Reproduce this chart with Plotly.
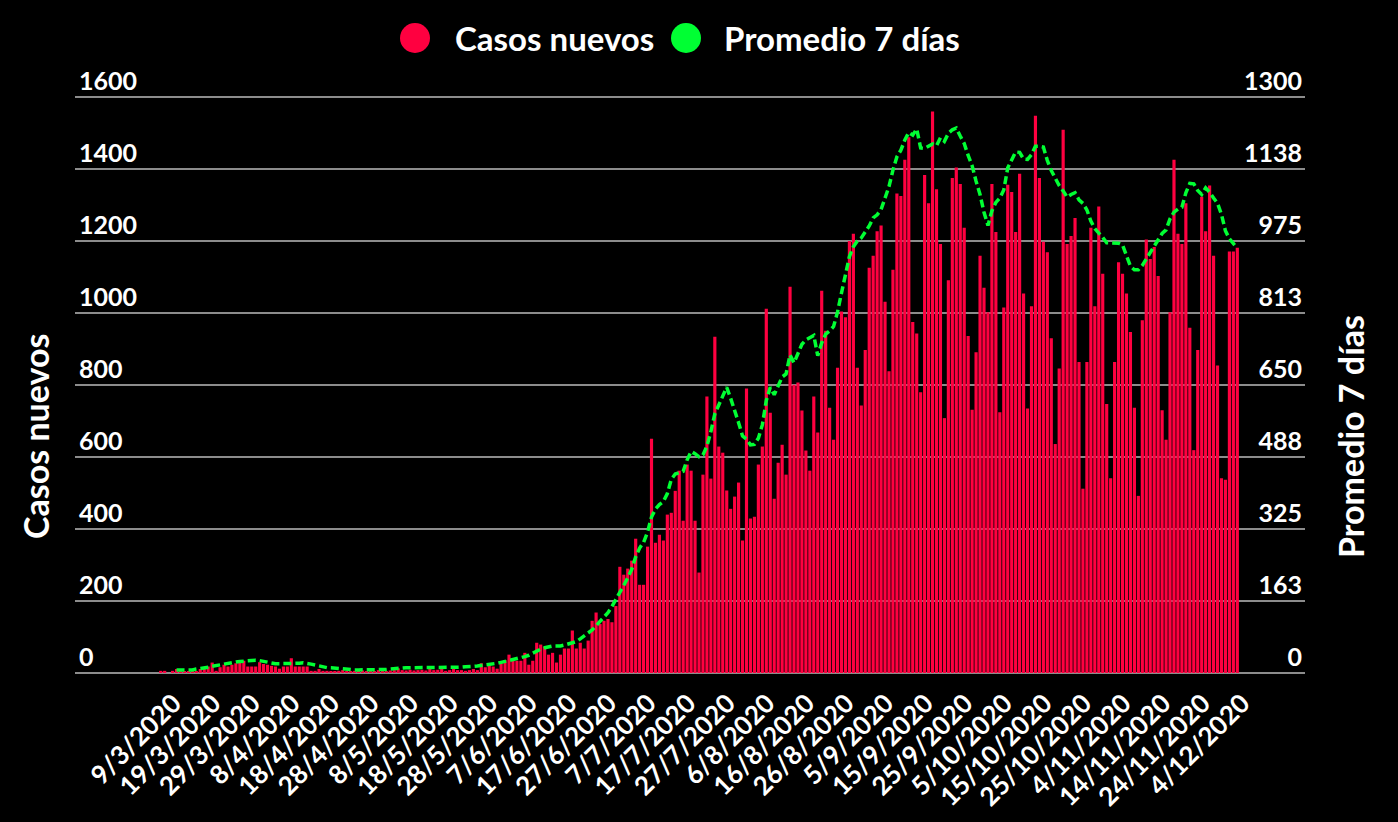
import pandas as pd
import plotly.graph_objects as go

# ---------------- data ----------------
start_date = "2020-03-07"

casos_nuevos = [
    6, 6, 0, 6, 11, 5, 5, 3, 5, 3,
    11, 16, 18, 29, 6, 16, 23, 18, 23, 27,
    30, 34, 18, 18, 18, 30, 25, 23, 20, 18,
    12, 18, 18, 41, 18, 18, 18, 18, 6, 6,
    11, 6, 6, 5, 4, 6, 8, 5, 4, 6,
    5, 7, 4, 6, 5, 8, 6, 5, 7, 8,
    13, 8, 7, 9, 7, 8, 9, 7, 18, 8,
    9, 11, 6, 8, 16, 8, 8, 6, 8, 11,
    8, 27, 16, 23, 18, 12, 27, 36, 51, 40,
    34, 34, 56, 23, 34, 84, 79, 73, 51, 56,
    29, 51, 68, 68, 118, 68, 84, 68, 90, 145,
    168, 136, 145, 150, 141, 186, 295, 273, 290, 312,
    373, 245, 245, 351, 651, 362, 384, 368, 440, 445,
    506, 562, 423, 579, 562, 423, 279, 551, 768, 540,
    934, 629, 612, 507, 456, 490, 529, 368, 790, 429,
    434, 579, 629, 1012, 723, 484, 584, 634, 551, 1073,
    801, 807, 729, 618, 562, 768, 668, 1062, 951, 737,
    648, 848, 1004, 988, 1200, 1220, 848, 743, 897, 1126,
    1159, 1227, 1243, 1031, 838, 1120, 1332, 1325, 1426, 1488,
    975, 943, 780, 1383, 1305, 1560, 1344, 1192, 708, 1091,
    1375, 1404, 1358, 1237, 936, 731, 891, 1159, 1070, 1002,
    1358, 1225, 724, 1015, 1356, 1336, 1225, 1387, 1054, 735,
    1019, 1548, 1375, 1198, 1169, 930, 636, 846, 1509, 1192,
    1214, 1264, 864, 512, 864, 1237, 1019, 1296, 1109, 747,
    541, 864, 1141, 1109, 1054, 947, 737, 492, 980, 1204,
    1150, 1183, 1103, 730, 648, 1002, 1426, 1220, 1192, 1305,
    959, 619, 897, 1323, 1227, 1354, 1159, 854, 541, 537,
    1171, 1171, 1181,
]

promedio_7_dias = [
    None, None, None, None, 7, 7, 7, 7, 7, 9,
    10, 11, 13, 15, 17, 19, 20, 21, 23, 25,
    26, 27, 29, 29, 29, 28, 26, 24, 22, 21,
    21, 21, 21, 21, 21, 22, 23, 22, 20, 18,
    16, 14, 12, 12, 11, 11, 10, 8, 7, 7,
    7, 7, 7, 7, 7, 7, 7, 8, 9, 10,
    12, 12, 12, 12, 12, 12, 12, 12, 12, 12,
    12, 13, 13, 13, 13, 13, 13, 14, 14, 15,
    16, 17, 18, 19, 20, 22, 24, 26, 28, 30,
    31, 34, 37, 40, 45, 50, 54, 57, 60, 61,
    61, 61, 63, 65, 67, 71, 77, 83, 90, 97,
    107, 117, 127, 136, 150, 165, 183, 198, 215, 234,
    262, 282, 295, 318, 352, 370, 380, 387, 405, 437,
    449, 453, 455, 481, 500, 495, 488, 492, 512, 545,
    585, 605, 625, 645, 620, 595, 565, 535, 528, 515,
    516, 530, 560, 615, 645, 628, 650, 668, 675, 718,
    700, 720, 742, 752, 758, 762, 716, 745, 765, 772,
    782, 815, 858, 900, 940, 962, 975, 982, 995, 1009,
    1027, 1034, 1046, 1070, 1098, 1135, 1165, 1180, 1203, 1220,
    1214, 1228, 1185, 1184, 1190, 1194, 1190, 1208, 1200, 1218,
    1226, 1230, 1212, 1195, 1168, 1145, 1110, 1080, 1040, 1010,
    1043, 1062, 1072, 1090, 1140, 1160, 1176, 1175, 1160, 1159,
    1170, 1189, 1189, 1187, 1157, 1134, 1116, 1100, 1088, 1074,
    1080, 1084, 1068, 1060, 1045, 1020, 1003, 994, 983, 971,
    971, 970, 970, 966, 940, 918, 910, 910, 920, 935,
    950, 965, 980, 992, 1000, 1025, 1040, 1047, 1051, 1084,
    1105, 1104, 1089, 1080, 1095, 1085, 1072, 1060, 1035, 998,
    980, 970, 959,
]

x_tick_labels = [
    "9/3/2020", "19/3/2020", "29/3/2020", "8/4/2020", "18/4/2020", "28/4/2020",
    "8/5/2020", "18/5/2020", "28/5/2020", "7/6/2020", "17/6/2020", "27/6/2020",
    "7/7/2020", "17/7/2020", "27/7/2020", "6/8/2020", "16/8/2020", "26/8/2020",
    "5/9/2020", "15/9/2020", "25/9/2020", "5/10/2020", "15/10/2020", "25/10/2020",
    "4/11/2020", "14/11/2020", "24/11/2020", "4/12/2020",
]

left_ticks = [0, 200, 400, 600, 800, 1000, 1200, 1400, 1600]
right_tickvals = [0, 162.5, 325, 487.5, 650, 812.5, 975, 1137.5, 1300]
right_ticktext = ["0", "163", "325", "488", "650", "813", "975", "1138", "1300"]

series_names = ["Casos nuevos", "Promedio 7 días"]
series_colors = ["#ff0040", "#00ff33"]

assert len(casos_nuevos) == len(promedio_7_dias) == 273

fechas = [f"{d.day}/{d.month}/{d.year}" for d in
          pd.date_range(start_date, periods=len(casos_nuevos), freq="D")]

# ---------------- figure ----------------
W, H = 1398, 822
Y0_PX, Y1600_PX = 673, 97          # pixel rows of the 0 and 1600 gridlines
LEFT_MAX, RIGHT_MAX = 1600, 1300
pad = 1650 / 1600                  # a little head-room so the top gridline is drawn
ML, MR, MB = 75, 93, H - Y0_PX
PH = (Y0_PX - Y1600_PX) * pad
MT = H - MB - PH
PW = W - ML - MR
FONT = "Lato"
bold = "bold"


def px_x(px):
    return (px - ML) / PW


def px_y(py):
    return (H - MB - py) / PH


fig = go.Figure()
fig.add_trace(go.Bar(
    x=fechas, y=casos_nuevos, name=series_names[0],
    marker=dict(color=series_colors[0], line=dict(width=0)),
    showlegend=False,
))
fig.add_trace(go.Scatter(
    x=fechas, y=promedio_7_dias, name=series_names[1], yaxis="y2",
    mode="lines", connectgaps=False,
    line=dict(color=series_colors[1], width=3.5, dash="8px,4px"),
    showlegend=False,
))

xtickfont = dict(family=FONT, size=26, color="white", weight=bold)
ytickfont = dict(family=FONT, size=25, color="white", weight=bold)
titlefont = dict(family=FONT, size=34, color="white", weight=bold)
grid = "#8c8c8c"

fig.update_layout(
    width=W, height=H,
    margin=dict(l=ML, r=MR, t=MT, b=MB, autoexpand=False),
    paper_bgcolor="black", plot_bgcolor="black",
    bargap=0.2,
    showlegend=False,
    xaxis=dict(
        type="category", range=[-21.65, 289.1],
        tickmode="array", tickvals=x_tick_labels, ticktext=x_tick_labels,
        tickangle=-45, tickfont=xtickfont, showgrid=False, zeroline=False,
        showline=False, ticks="", automargin=False,
        ticklabelshift=5, ticklabelstandoff=9,
    ),
    yaxis=dict(
        range=[0, LEFT_MAX * pad], tickmode="array", tickvals=left_ticks,
        ticklabelposition="inside", ticklabelshift=-16, ticklabelstandoff=1,
        ticklabeloverflow="allow",
        tickfont=ytickfont, showgrid=True, gridcolor=grid, gridwidth=1.5,
        zeroline=True, zerolinecolor=grid, zerolinewidth=1.5,
        showline=False, ticks="", automargin=False,
    ),
    yaxis2=dict(
        overlaying="y", side="right", range=[0, RIGHT_MAX * pad],
        tickmode="array", tickvals=right_tickvals, ticktext=right_ticktext,
        ticklabelposition="inside", ticklabelshift=-16, ticklabelstandoff=0,
        ticklabeloverflow="allow",
        tickfont=ytickfont, showgrid=False, zeroline=False, showline=False,
        ticks="", automargin=False,
    ),
)

# axis titles (centred at y = 437 px like the original)
fig.add_annotation(xref="paper", yref="paper", x=px_x(35), y=px_y(437),
                   xanchor="center", yanchor="middle", showarrow=False,
                   textangle=-90, text=series_names[0], font=titlefont)
fig.add_annotation(xref="paper", yref="paper", x=px_x(1350), y=px_y(437),
                   xanchor="center", yanchor="middle", showarrow=False,
                   textangle=-90, text=series_names[1], font=titlefont)

# legend with large round symbols at the top centre
legend_items = [(series_names[0], series_colors[0], 415, 453),
                (series_names[1], series_colors[1], 686, 722)]
leg_y = px_y(38)
for name, color, cx, tx in legend_items:
    fig.add_shape(type="circle", xref="paper", yref="paper",
                  xsizemode="pixel", ysizemode="pixel",
                  xanchor=px_x(cx), yanchor=leg_y, x0=-15, x1=15, y0=-15, y1=15,
                  fillcolor=color, line=dict(width=0))
    fig.add_annotation(xref="paper", yref="paper", x=px_x(tx), y=leg_y,
                       xanchor="left", yanchor="middle", showarrow=False,
                       text=name,
                       font=dict(family=FONT, size=33, color="white", weight=bold))

fig.write_html(
    "out.html",
    config={"displayModeBar": False},
    post_script="document.body.style.margin='0';"
                "document.body.style.background='black';",
)
